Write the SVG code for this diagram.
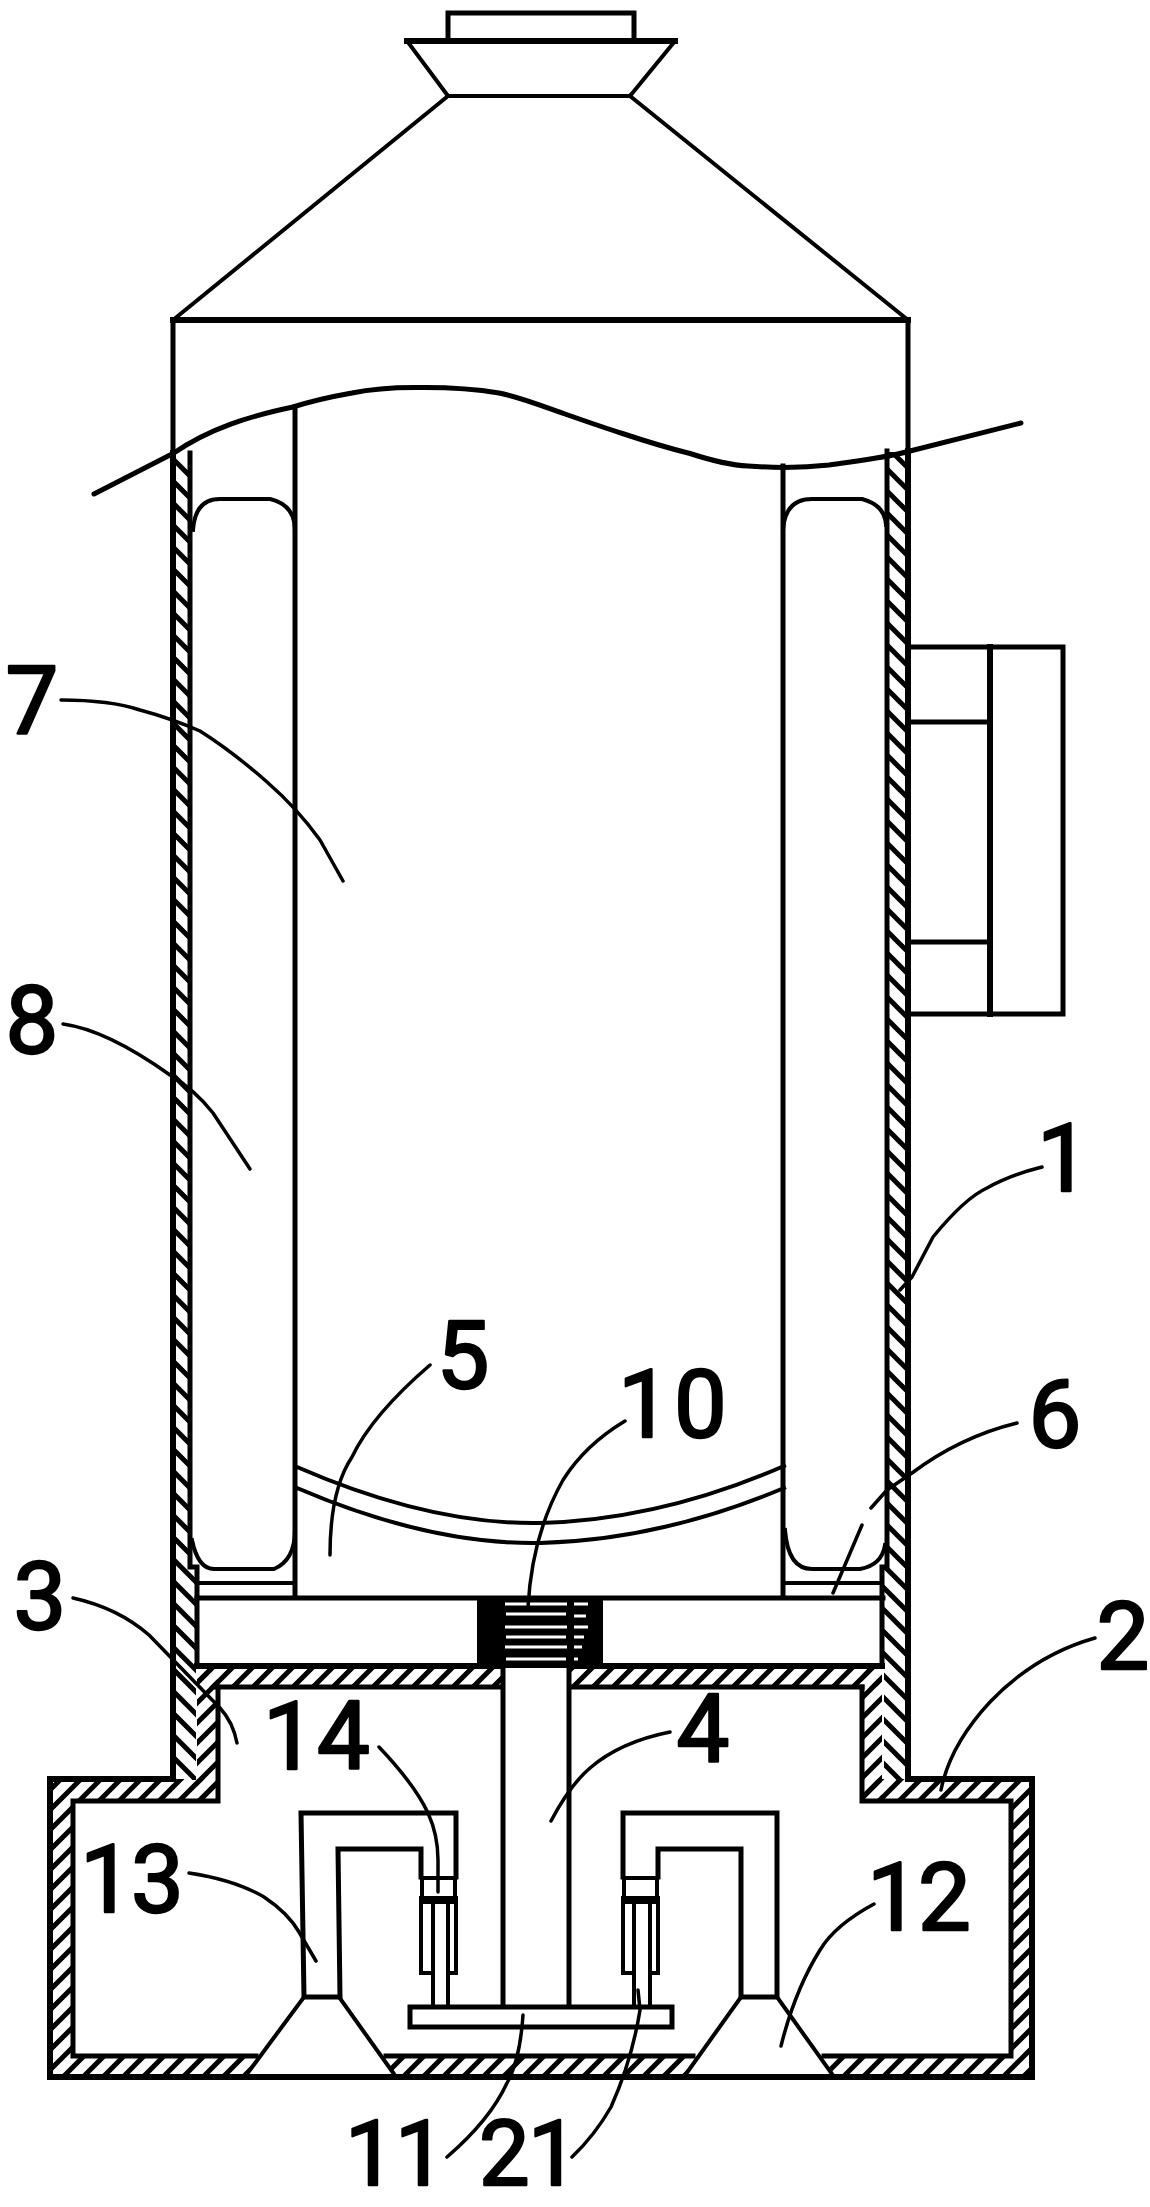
<svg xmlns="http://www.w3.org/2000/svg" width="1150" height="2207" viewBox="0 0 1150 2207">
<style>
.l{fill:none;stroke:#000;stroke-width:5;stroke-linecap:square;stroke-linejoin:miter}
.t{stroke-width:4}
.b{stroke-width:6}
.m{fill:none;stroke:#000;stroke-width:3.5;stroke-linecap:round;stroke-linejoin:round}
.n{font-family:Roboto,"Liberation Sans",Arial,sans-serif;font-size:94px;fill:#000;stroke:#000;stroke-width:2.4;stroke-linejoin:round;text-anchor:middle}
.s{text-anchor:start}
.f{font-size:90px}
</style>
<defs>
<pattern id="hb" width="22" height="22" patternUnits="userSpaceOnUse"><path d="M-3,-3L25,25M19,-3L25,3M-3,19L3,25" stroke="#000" stroke-width="5" fill="none"/></pattern>
<pattern id="hf" width="20" height="20" patternUnits="userSpaceOnUse"><path d="M23,-3L-3,23M3,-3L-3,3M23,17L17,23" stroke="#000" stroke-width="5" fill="none"/></pattern>
</defs>
<rect width="1150" height="2207" fill="#fff"/>
<g id="hood">
<path class="l" d="M448 40V13H634V40"/>
<path class="l b" d="M407 41H675"/>
<path class="l t" d="M407 41L448 96H630L675 41"/>
<path class="l t" d="M448 96L173 320M630 96L908 320"/>
<path class="l b" d="M173 320H908"/>
<path class="l" d="M173 320V453M908 320V451"/>
</g>
<g id="cut-line"><path class="m" style="stroke-width:5" d="M94 494L173 453.5C210 428 250 416 293 407C315 400 335 396 352 393C375 388 400 387 425 387.5C450 387.5 478 389.5 499 393C520 397 545 407 565 414C585 421 605 428 624 434C645 441 668 448 690 453.5C710 460 728 465 748 466C775 468 802 468 829 465C856 461 885 458 910 451L1021 423"/></g>
<g id="casing">
<rect x="173" y="456" width="17" height="1112" fill="url(#hb)"/>
<rect x="886" y="452" width="22" height="1116" fill="url(#hb)"/>
<rect x="173" y="1568" width="23" height="212" fill="url(#hb)"/>
<rect x="884" y="1568" width="25" height="212" fill="url(#hb)"/>
<rect x="197" y="1669" width="20" height="130" fill="url(#hf)"/>
<rect x="862" y="1669" width="20" height="130" fill="url(#hf)"/>
<path class="l b" d="M173 453V1779M908 451V1779"/>
<path class="l" d="M190 453V1567H197V1665M887 451V1567H882V1665"/>
</g>
<g id="base">
<path fill="url(#hf)" d="M50 1779H172V1800H73V2056H256L247 2077H50Z"/>
<path fill="url(#hf)" d="M218 1779V1800H170V1779Z"/>
<path fill="url(#hf)" d="M862 1779H1032V2077H832L824 2056H1011V1800H862Z"/>
<path fill="url(#hf)" d="M394 2077L386 2056H693L686 2077Z"/>
<path class="l b" d="M170 1779H50V2077H1032V1779H910"/>
<path class="l" d="M218 1687V1801H73V2056H256M386 2056H693M824 2056H1011V1801H862V1687"/>
<path class="l t" d="M304 1997L247 2074M339 1997L394 2074M741 1997L686 2074M777 1997L832 2074"/>
</g>
<g id="shelf">
<rect x="197" y="1667" width="685" height="20" fill="url(#hf)"/>
<path class="l b" d="M197 1666H882"/>
<path class="l" d="M216 1687H502M570 1687H862"/>
</g>
<g id="drum">
<path class="l" d="M295 407V1597M783 466V1597"/>
<path class="l" d="M197 1598H883"/>
<path class="l t" d="M197 1583H295M783 1583H882"/>
<path class="l t" d="M192 1540Q198 1569 214 1569H274Q295 1560 295 1530M785 1530Q788 1569 812 1569H860Q882 1565 885 1545"/>
<path class="l t" d="M193 530Q195 499 220 499H270Q295 505 295 530M783 530Q785 499 812 499H862Q885 505 886 525"/>
<path class="l t" d="M297 1467Q430 1525 540 1523Q660 1520 784 1466M297 1488Q430 1545 540 1543Q660 1540 784 1488"/>
</g>
<g id="spring">
<rect x="477" y="1597" width="126" height="71" fill="#000"/>
<path fill="none" stroke="#fff" stroke-width="3" d="M505 1604H567M506 1614H566M505 1627H567M506 1637H566M505 1647H567M506 1659H566M574 1604H588M574 1616H586M574 1627H588M574 1637H584M574 1647H582M574 1659H578"/>
</g>
<g id="shaft">
<rect x="505" y="1668" width="62" height="30" fill="#fff"/>
<path class="l" d="M503 1668V2006M569 1668V2006"/>
</g>
<g id="plate">
<rect x="410" y="2007" width="262" height="20" fill="#fff" stroke="#000" stroke-width="5"/>
</g>
<g id="pipe-left">
<path class="l" d="M421 1877V1849H338L340 1997H304L301 1813H456V1877"/>
<rect x="422" y="1878" width="33" height="20" fill="#fff" stroke="#000" stroke-width="4"/>
<path class="l t" d="M421 1902H456M421 1898V1973H433M456 1898V1973H448M433 1902V2006M448 1902V2006"/>
</g>
<g id="pipe-right">
<path class="l" d="M658 1877V1849H741V1997H777V1813H623V1877"/>
<rect x="624" y="1878" width="33" height="20" fill="#fff" stroke="#000" stroke-width="4"/>
<path class="l t" d="M623 1902H658M623 1898V1973H634M658 1898V1973H650M634 1902V2006M650 1902V2006"/>
</g>
<g id="motor">
<path class="l" d="M909 647H1063V1014H909"/>
<path class="l b" d="M990 647V1014"/>
<path class="l" d="M909 722H990M909 942H990"/>
</g>
<g id="leaders">
<path class="m" d="M61 700Q110 700 140 710Q170 718 200 731Q233 752 267 782Q297 808 320 840L343 881"/>
<path class="m" d="M63 1024Q107 1030 170 1075Q195 1090 213 1113L250 1169"/>
<path class="m" d="M73 1598Q118 1608 149 1635L220 1708Q233 1722 237 1743"/>
<path class="m" d="M330 1555Q330 1490 352 1457Q372 1415 430 1365"/>
<path class="m" d="M528 1607Q532 1535 563 1480Q585 1445 625 1421"/>
<path class="m" d="M1017 1423Q960 1437 912 1473L887 1490L871 1508M862 1525L833 1593"/>
<path class="m" d="M1095 1638Q1035 1655 990 1702Q950 1745 941 1790"/>
<path class="m" d="M1042 1167Q1010 1175 987 1188Q965 1198 933 1237L912 1277L900 1290"/>
<path class="m" d="M379 1747Q415 1785 428 1813Q438 1835 438 1860L438 1892"/>
<path class="m" d="M189 1873Q235 1880 264 1897Q288 1913 299 1932L316 1961"/>
<path class="m" d="M670 1732Q620 1742 590 1768Q570 1785 551 1821"/>
<path class="m" d="M874 1904Q835 1925 820 1950Q795 1990 781 2046"/>
<path class="m" d="M523 2015Q520 2060 507 2083Q490 2120 447 2157"/>
<path class="m" d="M638 1990L640 2010Q632 2060 611 2107Q595 2135 572 2157"/>
</g>
<g id="labels">
<text class="n" x="32" y="733">7</text>
<text class="n" x="32" y="1053">8</text>
<text class="n" x="40" y="1629">3</text>
<text class="n" x="463" y="1388">5</text>
<text class="n s" x="618 674" y="1437">10</text>
<text class="n" x="1055" y="1447">6</text>
<text class="n s" x="1037" y="1191">1</text>
<text class="n" x="1123" y="1669">2</text>
<text class="n s" x="263 317" y="1769">14</text>
<text class="n" x="703" y="1762">4</text>
<text class="n s" x="80 131" y="1912">13</text>
<text class="n s" x="867 918" y="1930">12</text>
<text class="n s f" x="345 395" y="2185">11</text>
<text class="n s f" x="479 528" y="2185">21</text>
</g>
</svg>
